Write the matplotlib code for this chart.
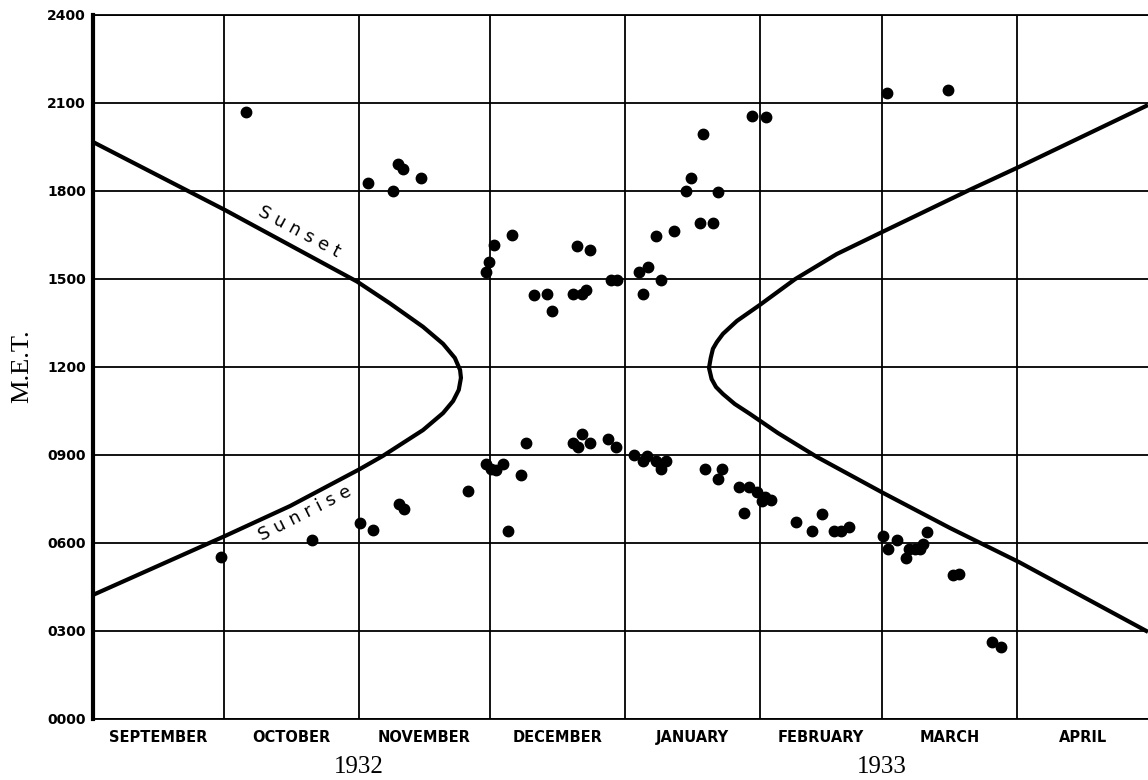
import matplotlib
matplotlib.use('Agg')
import matplotlib.pyplot as plt
import matplotlib.transforms as mtransforms

# x: days counted from 1 September 1932, y: hours (M.E.T.)
month_names = ['SEPTEMBER', 'OCTOBER', 'NOVEMBER', 'DECEMBER',
               'JANUARY', 'FEBRUARY', 'MARCH', 'APRIL']
month_starts = [0, 30, 61, 91, 122, 153, 181, 212, 242]
hour_ticks = [0, 3, 6, 9, 12, 15, 18, 21, 24]
hour_labels = ['0000', '0300', '0600', '0900', '1200',
               '1500', '1800', '2100', '2400']
year_labels = ['1932', '1933']
year_days = [61, 181]

# Sunset / sunrise curve before the polar night (sunset side first)
autumn_day = [0, 22.2, 30.3, 60.6, 68.1, 75.7, 80.3, 83.0, 84.2, 84.4,
              83.9, 82.6, 80.3, 75.7, 66.5, 61.2, 45.2, 30.3, 0]
autumn_hour = [19.67, 17.97, 17.35, 14.91, 14.17, 13.37, 12.79, 12.31, 11.90, 11.63,
               11.22, 10.84, 10.43, 9.85, 8.97, 8.52, 7.26, 6.24, 4.23]

# Sunset / sunrise curve after the polar night (sunset side first)
spring_day = [242, 212.4, 201.1, 181.0, 170.6, 161.0, 153.0, 147.7, 144.5, 143.1,
              142.2, 141.7, 141.3, 141.9, 142.9, 144.5, 147.2, 150.7, 157.1, 166.1,
              181.2, 196.6, 212.4, 242]
spring_hour = [20.93, 18.82, 18.04, 16.60, 15.85, 14.99, 14.12, 13.57, 13.13, 12.85,
               12.62, 12.31, 11.97, 11.59, 11.32, 11.08, 10.74, 10.40, 9.75, 8.93,
               7.71, 6.51, 5.35, 2.97]

# Observations, afternoon / evening group
upper_day = [35.1, 63.1, 68.8, 70.0, 71.1, 75.2, 90.1, 90.8, 92.0, 96.1,
             101.1, 104.1, 105.3, 110.1, 111.0, 112.2, 113.1, 114.0, 118.8, 120.2,
             125.2, 126.1, 127.3, 129.1, 130.3, 133.3, 136.0, 137.2, 139.2, 139.9,
             142.2, 143.3, 151.1, 154.4, 182.1, 196.1]
upper_hour = [20.70, 18.27, 18.00, 18.92, 18.75, 18.44, 15.24, 15.58, 16.16, 16.50,
              14.46, 14.49, 13.91, 14.49, 16.13, 14.49, 14.63, 15.99, 14.97, 14.97,
              15.24, 14.49, 15.41, 16.47, 14.97, 16.64, 18.00, 18.45, 16.91, 19.95,
              16.91, 17.97, 20.56, 20.52, 21.34, 21.45]

# Observations, morning group
lower_day = [29.4, 50.2, 61.2, 64.2, 70.2, 71.3, 86.0, 90.1, 91.3, 92.4,
             94.0, 95.2, 98.2, 99.3, 110.1, 111.2, 112.2, 114.0, 118.1, 120.0,
             124.1, 126.1, 127.1, 129.1, 130.3, 131.4, 140.4, 143.3, 144.3, 148.2,
             149.3, 150.5, 152.3, 153.4, 154.1, 155.5, 161.2, 164.9, 167.2, 170.0,
             171.6, 173.4, 181.2, 182.3, 184.4, 186.4, 187.2, 188.5, 189.7, 190.4,
             191.3, 197.2, 198.6, 206.2, 208.3]
lower_hour = [5.52, 6.10, 6.68, 6.44, 7.33, 7.16, 7.77, 8.69, 8.52, 8.49,
              8.69, 6.41, 8.32, 9.41, 9.41, 9.27, 9.72, 9.41, 9.55, 9.27,
              9.00, 8.80, 8.97, 8.80, 8.52, 8.80, 8.52, 8.18, 8.52, 7.91,
              7.02, 7.91, 7.74, 7.43, 7.57, 7.47, 6.72, 6.41, 6.99, 6.41,
              6.41, 6.55, 6.24, 5.80, 6.10, 5.49, 5.80, 5.80, 5.80, 5.97,
              6.38, 4.91, 4.94, 2.63, 2.45]

W, H = 1148, 780
fig = plt.figure(figsize=(W / 100, H / 100), dpi=100)
ax = fig.add_axes([93 / W, 61 / H, 1055 / W, 704 / H])

ax.set_xlim(month_starts[0], month_starts[-1])
ax.set_ylim(0, 24)

# Month boundaries as gridlines (no line on the right edge), names centred
ax.set_xticks(month_starts[:-1])
ax.set_xticklabels([])
centres = [(a + b) / 2 for a, b in zip(month_starts[:-1], month_starts[1:])]
ax.set_xticks(centres, minor=True)
ax.set_xticklabels(month_names, minor=True, fontsize=10.5, fontweight='bold',
                   family='DejaVu Sans')
ax.set_yticks(hour_ticks)
ax.set_yticklabels(hour_labels, fontsize=10, fontweight='bold', family='DejaVu Sans')
ax.tick_params(which='both', length=0)
ax.tick_params(axis='x', which='minor', pad=8)
ax.tick_params(axis='y', pad=5)
ax.grid(which='major', color='black', linewidth=1.3)

for side in ('top', 'bottom'):
    ax.spines[side].set_linewidth(1.3)
ax.spines['left'].set_linewidth(3.0)
ax.spines['right'].set_visible(False)

# Sunset / sunrise curves
for xs, ys in ((autumn_day, autumn_hour), (spring_day, spring_hour)):
    ax.plot(xs, ys, color='black', linewidth=3.0, solid_joinstyle='round',
            solid_capstyle='butt', zorder=3)

# Observations
ax.plot(upper_day, upper_hour, 'o', color='black', markersize=7.5, zorder=4)
ax.plot(lower_day, lower_hour, 'o', color='black', markersize=7.5, zorder=4)

# Curve labels
ax.text(47.2, 16.6, 'S u n s e t', fontsize=13, rotation=-28,
        ha='center', va='center', family='DejaVu Sans')
ax.text(48.6, 7.02, 'S u n r i s e', fontsize=13, rotation=27,
        ha='center', va='center', family='DejaVu Sans')

# Year labels under the month names
trans = mtransforms.blended_transform_factory(ax.transData, ax.transAxes)
for d, label in zip(year_days, year_labels):
    ax.text(d, -0.068, label, transform=trans, ha='center', va='center',
            fontsize=18, family='Liberation Serif')

fig.text(22 / W, 1 - 366 / H, 'M.E.T.', rotation=90, ha='center', va='center',
         fontsize=19, family='Liberation Serif')

plt.savefig('out.png', dpi=100)
